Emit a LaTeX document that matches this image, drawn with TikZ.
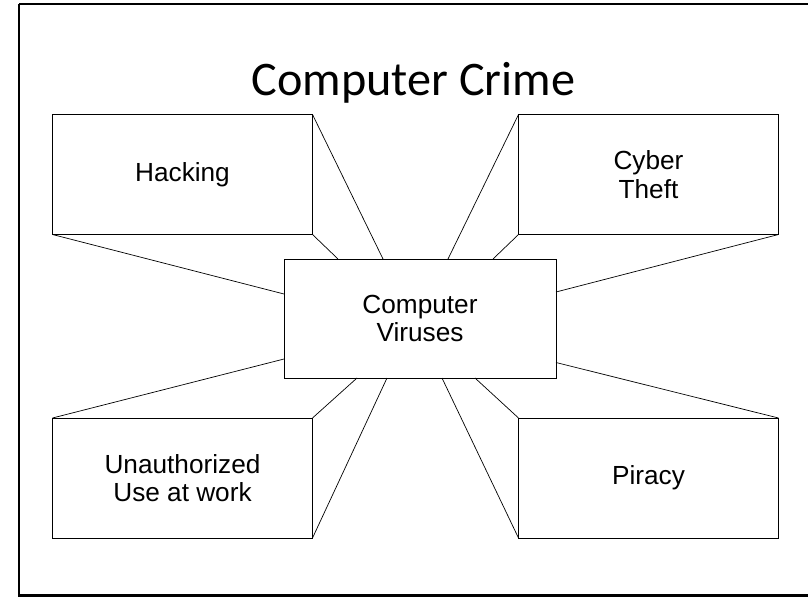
\documentclass[tikz,border=0pt]{standalone}
\usepackage{fontspec}
\usetikzlibrary{calc}
\setmainfont{Liberation Sans}
\newfontfamily\titlefont{Carlito}
\begin{document}
\begin{tikzpicture}[x=1pt,y=-1pt,
  crimebox/.style={draw=black,line width=0.8pt,fill=white,inner sep=0pt,outer sep=0pt,
    minimum width=260pt,minimum height=120pt,align=center,
    font=\fontsize{26.2}{28.5}\selectfont},
  hubbox/.style={crimebox,minimum width=272pt,minimum height=119pt},
  ray/.style={draw=black,line width=0.7pt}]
\useasboundingbox (0,0) rectangle (808,597);
\clip (0,0) rectangle (808,597);

% slide frame, running off the right edge
\draw[line width=2.5pt] (19,4) -- (840,4) (19,4) -- (19,595.6) -- (840,595.6);

% title
\node[anchor=base,font=\titlefont\fontsize{48.2}{58}\selectfont] (title) at (413.5,95) {Computer Crime};

% boxes
\node[hubbox]   (cv) at (420,318.5) {Computer\\Viruses};
\node[crimebox] (hk) at (182.5,174.5) {Hacking};
\node[crimebox] (ct) at (648.5,174.5) {Cyber\\Theft};
\node[crimebox] (ua) at (182.5,478) {Unauthorized\\Use at work};
\node[crimebox] (pr) at (648.5,478) {Piracy};

% points where the rays meet the central box
\coordinate (hkA) at ($(cv.north west)+(99,0)$);
\coordinate (hkB) at ($(cv.north west)+(54,0)$);
\coordinate (hkC) at ($(cv.north west)+(0,35)$);
\coordinate (ctA) at ($(cv.north west)+(164,0)$);
\coordinate (ctB) at ($(cv.north west)+(209,0)$);
\coordinate (ctC) at ($(cv.north east)+(0,33)$);
\coordinate (uaA) at ($(cv.south west)+(0,-19)$);
\coordinate (uaB) at ($(cv.south west)+(73,0)$);
\coordinate (uaC) at ($(cv.south west)+(103,0)$);
\coordinate (prA) at ($(cv.south west)+(191,0)$);
\coordinate (prB) at ($(cv.south west)+(158,0)$);
\coordinate (prC) at ($(cv.south east)+(0,-15.5)$);

% perspective rays
\draw[ray] (hk.north east) -- (hkA);
\draw[ray] (hk.south east) -- (hkB);
\draw[ray] (hk.south west) -- (hkC);
\draw[ray] (ct.north west) -- (ctA);
\draw[ray] (ct.south west) -- (ctB);
\draw[ray] (ct.south east) -- (ctC);
\draw[ray] (ua.north west) -- (uaA);
\draw[ray] (ua.north east) -- (uaB);
\draw[ray] (ua.south east) -- (uaC);
\draw[ray] (pr.north west) -- (prA);
\draw[ray] (pr.south west) -- (prB);
\draw[ray] (pr.north east) -- (prC);
\end{tikzpicture}
\end{document}
